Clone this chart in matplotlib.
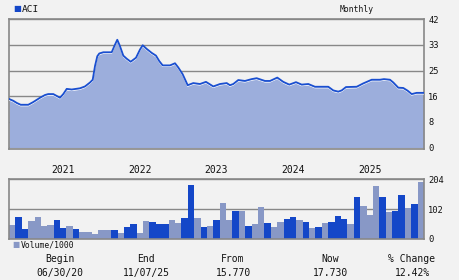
import matplotlib.pyplot as plt
import numpy as np

# price, months since 06/30/20
price_t = [0, 0.67, 1.21, 1.83, 3.02, 3.81, 4.86, 5.64, 6.15, 6.94, 7.99, 8.5, 9.04, 9.82,
           11.12, 11.9, 12.69, 13.11, 13.47, 13.83, 14.14, 14.77, 16.08, 16.6, 16.96, 17.38,
           17.9, 18.43, 19.06, 19.89, 20.52, 20.94, 21.57, 22.35, 23.02, 23.54, 24.07, 25.22,
           26.0, 26.52, 27.2, 27.99, 28.86, 29.91, 30.85, 32.0, 33.05, 34.1, 34.61, 35.13,
           35.91, 36.96, 38.01, 38.79, 40.09, 40.88, 42.02, 42.96, 43.9, 44.95, 45.84, 46.88,
           47.92, 50.01, 50.79, 51.57, 52.11, 52.78, 54.46, 55.49, 56.81, 58.11, 58.73, 59.67,
           60.19, 60.97, 61.75, 62.44, 63.07, 63.85, 65.0]
price = [15.9, 15.3, 14.6, 14.0, 14.0, 14.9, 16.3, 17.2, 17.5, 17.5, 16.3, 17.5, 19.2, 19.0,
         19.4, 20.0, 21.3, 22.2, 26.7, 29.9, 30.8, 31.2, 31.2, 33.7, 35.3, 33.2,
         30.1, 29.1, 28.1, 29.4, 32.1, 33.5, 32.3, 31.0, 30.1, 28.3, 26.9, 26.9,
         27.6, 26.2, 24.0, 20.4, 21.1, 20.8, 21.5, 20.0, 20.8, 21.1, 20.4, 20.8,
         22.1, 21.8, 22.4, 22.7, 21.8, 21.8, 22.9, 21.5, 20.6, 21.4, 20.6, 20.8,
         19.9, 19.9, 18.7, 18.3, 18.7, 19.8, 19.9, 21.0, 22.2, 22.2, 22.4, 22.2,
         21.3, 19.6, 19.5, 18.6, 17.5, 17.9, 17.9]

# monthly volume /1000, d = up month (dark), l = down month (light)
volume = [48, 75, 34, 62, 75, 44, 48, 65, 38, 44, 34, 24, 24, 17, 31, 31, 31, 21, 41, 51,
          21, 62, 58, 51, 51, 65, 55, 72, 185, 72, 41, 44, 65, 123, 65, 96, 96, 44, 51, 109,
          55, 41, 58, 68, 75, 65, 58, 38, 41, 55, 58, 79, 68, 51, 144, 113, 82, 181, 144, 92,
          96, 150, 106, 120, 195]
updown = list("lddllllddl" "dllllldldd" "lldddllddl" "dldlldldll"
              "dllddldldl" "dddldllldl" "ddldl")

years = ["2021", "2022", "2023", "2024", "2025"]
year_pos = [8.5, 20.5, 32.5, 44.5, 56.5]
price_ticks = [0, 8.4, 16.8, 25.2, 33.6, 42]
price_labels = ["0", "8", "16", "25", "33", "42"]
vol_ticks = [0, 102, 204]

footer_head = ["Begin", "End", "From", "Now", "% Change"]
footer_vals = ["06/30/20", "11/07/25", "15.770", "17.730", "12.42%"]

BG = "#f2f2f2"
DARK = "#1447c8"
LIGHT = "#8898c6"
GRID = "#888888"
FONT = "DejaVu Sans Mono"

W, H = 460, 280
fig = plt.figure(figsize=(W / 100, H / 100), dpi=100, facecolor=BG)

def box(x0, y0, x1, y1):
    return [x0 / W, 1 - y1 / H, (x1 - x0) / W, (y1 - y0) / H]

# price panel
ax = fig.add_axes(box(9, 19.3, 424, 149.3))
ax.set_facecolor(BG)
ax.fill_between(price_t, price, 0, color="#9caedc", lw=0, zorder=2)
ax.plot(price_t, np.array(price) - 0.4, color="white", lw=0.6, zorder=3)
ax.plot(price_t, price, color="#1a4fd0", lw=1.3, zorder=4)
ax.set_xlim(0, 65)
ax.set_ylim(-0.6, 42)
ax.set_yticks(price_ticks)
ax.set_yticklabels(price_labels)
ax.yaxis.tick_right()
ax.tick_params(axis="y", length=0, pad=3, labelsize=6.3, labelcolor="#111")
ax.set_xticks([])
ax.grid(axis="y", color=GRID, lw=1.0, zorder=1)
for s in ax.spines.values():
    s.set_color(GRID)
    s.set_linewidth(1.2)
for lb in ax.get_yticklabels():
    lb.set_family(FONT)

# volume panel
av = fig.add_axes(box(9, 179.3, 424, 239))
av.set_facecolor(BG)
cols = [DARK if c == "d" else LIGHT for c in updown]
av.bar(np.arange(len(volume)) + 0.5, volume, width=1.0, color=cols, lw=0, zorder=2)
av.set_xlim(0, 65)
av.set_ylim(0, 204)
av.set_yticks(vol_ticks)
av.yaxis.tick_right()
av.tick_params(axis="y", length=0, pad=3, labelsize=6.3, labelcolor="#111")
av.set_xticks(year_pos)
av.set_xticklabels(years)
av.xaxis.tick_top()
av.tick_params(axis="x", length=0, pad=3, labelsize=7, labelcolor="#111")
av.grid(axis="y", color=GRID, lw=1.0, zorder=1)
for s in av.spines.values():
    s.set_color(GRID)
    s.set_linewidth(1.2)
for lb in av.get_yticklabels() + av.get_xticklabels():
    lb.set_family(FONT)

# header texts
fig.text(13 / W, 1 - 9 / H, "\u25a0", color=DARK, fontsize=6, va="center", family="DejaVu Sans")
fig.text(22 / W, 1 - 9 / H, "ACI", color="#111", fontsize=6.8, va="center", family=FONT)
fig.text(357 / W, 1 - 9 / H, "Monthly", color="#111", fontsize=5.8, va="center", ha="center",
         family=FONT)
fig.text(12 / W, 1 - 245 / H, "\u25a0", color=LIGHT, fontsize=5.5, va="center", family="DejaVu Sans")
fig.text(21 / W, 1 - 245 / H, "Volume/1000", color="#111", fontsize=5.8, va="center", family=FONT)

# footer
cx = [60, 146, 233, 330, 412]
for x, h, v in zip(cx, footer_head, footer_vals):
    fig.text(x / W, 1 - 259 / H, h, ha="center", va="center", fontsize=7, color="#111", family=FONT)
    fig.text(x / W, 1 - 273 / H, v, ha="center", va="center", fontsize=7, color="#111", family=FONT)

fig.savefig("out.png", dpi=100, facecolor=BG)
